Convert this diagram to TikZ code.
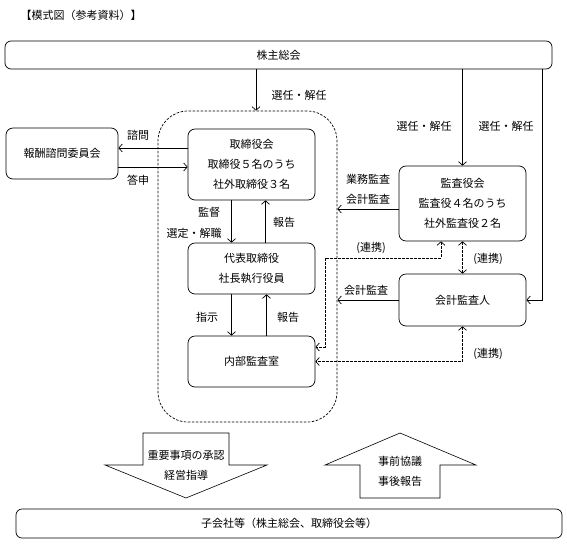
\documentclass[tikz,border=0pt]{standalone}
\usepackage{fontspec}
\setmainfont{Noto Sans CJK JP}
\usetikzlibrary{arrows.meta}

\begin{document}
\begin{tikzpicture}[x = 1pt, y = -1pt,
  font = \fontsize{11}{20}\selectfont,
  line width = 0.7pt,
  >= {Straight Barb[length = 3.5pt, width = 8pt]},
  box/.style = {draw, rounded corners = 7pt, align = center, inner sep = 0pt},
  link/.style = {dash pattern = on 2.5pt off 1.5pt}]
\useasboundingbox (0, 0) rectangle (567, 544);

\node at (81, 15) (title) {【模式図（参考資料）】};

\node[box, rounded corners = 6pt, minimum width = 547, minimum height = 28] at (278.5, 55) (soukai) {株主総会};
\node[box, link, rounded corners = 30pt, minimum width = 179, minimum height = 311] at (247.5, 266.5) (group) {};
\node[box, minimum width = 112, minimum height = 51] at (62, 153.5) (houshu) {報酬諮問委員会};
\node[box, minimum width = 127, minimum height = 71] at (251.5, 164.5) (torishimari) {取締役会\\取締役５名のうち\\社外取締役３名};
\node[box, minimum width = 127, minimum height = 51] at (251.5, 268.5) (daihyo) {代表取締役\\社長執行役員};
\node[box, minimum width = 127, minimum height = 51] at (251.5, 361.5) (naibu) {内部監査室};
\node[box, minimum width = 127, minimum height = 75] at (462.5, 203.5) (kansayaku) {監査役会\\監査役４名のうち\\社外監査役２名};
\node[box, minimum width = 127, minimum height = 52] at (462.5, 300) (kaikei) {会計監査人};
\node[box, rounded corners = 6pt, minimum width = 546, minimum height = 29] at (289, 523.5) (kogaisha) {子会社等（株主総会、取締役会等）};

\draw[->] (256, 0 |- soukai.south) -- (256, 0 |- group.north);
\node at (299, 95) (elect1) {選任・解任};
\draw[->] (soukai.south -| kansayaku.north) -- (kansayaku.north);
\node at (424, 126) (elect2) {選任・解任};
\draw[->] (542, 0 |- soukai.south) |- (kaikei.east);
\node at (506, 126) (elect3) {選任・解任};

\draw[->] (torishimari.west |- 0, 148) -- (houshu.east |- 0, 148);
\draw[->] (houshu.east |- 0, 167) -- (torishimari.west |- 0, 167);
\node at (138, 135) (consult) {諮問};
\node at (138, 180) (answer) {答申};

\draw[->] ([xshift = -20pt]torishimari.south) -- ([xshift = -20pt]daihyo.north);
\draw[->] ([xshift = 14pt]daihyo.north) -- ([xshift = 14pt]torishimari.south);
\node at (209, 212) (supervise) {監督};
\node at (194, 233) (appoint) {選定・解職};
\node at (284, 222) (report1) {報告};

\draw[->] ([xshift = -20pt]daihyo.south) -- ([xshift = -20pt]naibu.north);
\draw[->] ([xshift = 15pt]naibu.north) -- ([xshift = 15pt]daihyo.south);
\node at (207, 317) (instruct) {指示};
\node at (288, 317) (report2) {報告};

\draw[->] (kansayaku.west |- 0, 209) -- (group.east |- 0, 209);
\node[align = center] at (368, 189) (audit1) {業務監査\\会計監査};
\draw[->] (kaikei.west) -- (kaikei.west -| group.east);
\node at (366, 290) (audit2) {会計監査};

\coordinate (bend) at (325, 258);
\draw[<->, link] (kansayaku.south -| 441, 0) |- (bend) |- (naibu.east |- 0, 347);
\node at (371, 248) (coop1) {(連携)};
\draw[<->, link] (kansayaku.south) -- (kaikei.north);
\node at (488, 259) (coop2) {(連携)};
\draw[<->, link] (kaikei.south) |- (naibu.east);
\node at (488, 354) (coop3) {(連携)};

\draw[line width = 0.6pt] (143, 433) -- (229, 433) -- (229, 465) -- (267, 465) -- (186, 498) -- (105, 465) -- (143, 465) -- cycle;
\node[align = center] at (186, 465) (guide) {重要事項の承認\\経営指導};
\draw[line width = 0.6pt] (360, 498) -- (440, 498) -- (440, 465) -- (476, 465) -- (400, 433) -- (325, 465) -- (360, 465) -- cycle;
\node[align = center] at (400, 471.5) (prior) {事前協議\\事後報告};

\end{tikzpicture}
\end{document}
